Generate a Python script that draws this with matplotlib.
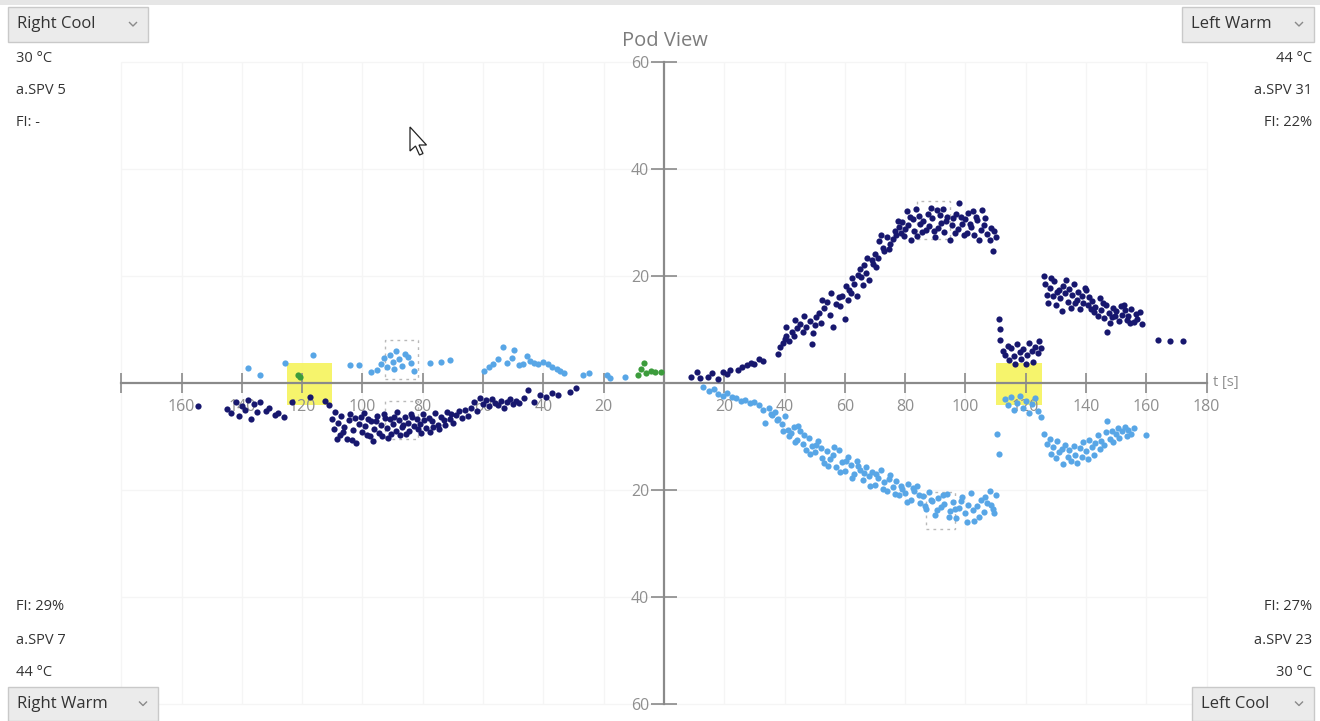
import numpy as np
import matplotlib
matplotlib.use("Agg")
import matplotlib.pyplot as plt
from matplotlib.patches import Rectangle, Polygon
from matplotlib.ticker import FuncFormatter

plt.rcParams['font.family'] = ['Open Sans', 'DejaVu Sans']

# slow phase velocity samples, (t [s], SPV [deg/s]); right ear plotted on negative time
left_warm = [
    (9, 1.2), (11, 2.1), (12, 1.0), (14.5, 1.2), (16, 1.8), (18, 0.8), (19.5, 2.0), (21, 1.6),
    (22, 2.4), (24.5, 2.5), (26, 3.0), (27.5, 3.4), (29, 3.8), (30, 3.6), (31.5, 4.5), (33, 4.2),
    (38, 5.5), (38.5, 6.8), (39.5, 7.5), (40, 8.3), (40.5, 8.8), (41.5, 7.9), (42.5, 9.5), (43, 8.7),
    (44, 10.2), (45, 11.0), (46, 9.6), (47, 10.5), (48.5, 11.6), (49, 7.2), (49.5, 9.3), (50.5, 12.4),
    (51.5, 13.0), (52, 11.2), (53, 14.0), (54, 15.2), (55, 12.8), (56, 10.4), (57, 14.8), (58, 16.0),
    (59, 16.3), (60, 12.0), (61, 15.6), (61.5, 17.4), (62, 16.8), (63, 18.5), (64, 16.2), (64.5, 20.2),
    (65, 21.3), (65.5, 19.8), (66.5, 22.0), (67, 20.6), (68, 19.2), (69, 23.0), (69.5, 22.2), (70, 24.1),
    (71, 23.4), (71.5, 26.5), (72.5, 25.2), (73, 24.6), (74, 27.3), (75, 26.0), (76, 26.9), (76.5, 28.4),
    (77, 27.6), (78, 29.2), (78.5, 28.0), (79, 30.1), (80, 28.8), (80.5, 32.2), (81, 29.6), (82, 26.8),
    (82.5, 30.7), (83, 28.5), (84, 27.4), (84.5, 31.2), (85, 29.8), (86, 30.3), (87, 28.6), (87.5, 31.5),
    (88, 29.4), (89, 30.8), (90, 27.3), (90.5, 32.4), (91, 29.0), (91.5, 31.4), (92, 30.0), (93, 28.2),
    (94, 31.0), (95, 26.8), (95.5, 29.6), (96, 30.9), (97, 31.5), (97.5, 28.7), (98, 33.6), (99, 29.8),
    (100, 30.6), (100.5, 28.0), (101, 31.8), (102, 29.2), (102.5, 32.1), (103, 27.6), (104, 30.4),
    (105, 28.6), (105.5, 32.3), (106, 29.5), (107, 27.8), (108, 26.7), (109, 24.6), (110, 27.2),
    (40.5, 10.4), (43.5, 11.8), (46.5, 12.6), (50, 10.8), (52.5, 15.6), (55.5, 16.8), (58.5, 14.4),
    (60.5, 18.2), (62.5, 19.6), (66, 18.4), (67.5, 23.4), (70.5, 21.6), (72, 27.6), (74.5, 25.0),
    (77.5, 30.2), (79.5, 27.4), (81.5, 31.0), (83.5, 32.6), (85.5, 28.2), (88.5, 32.8), (89.5, 28.4),
    (92.5, 32.6), (93.5, 30.2), (96.5, 28.0), (98.5, 31.0), (99.5, 27.6), (101.5, 29.8), (103.5, 31.0),
    (104.5, 26.8), (106.5, 30.8), (108.5, 29.0), (109.5, 28.4),
    (111, 12.0), (111.5, 10.0), (111.5, 8.0), (112.5, 6.0), (113, 5.2), (114, 7.0), (114.5, 4.3),
    (115, 6.5), (116, 5.0), (116.5, 3.5), (117, 7.2), (118, 5.8), (118.5, 4.4), (119, 6.3), (120, 3.6),
    (120.5, 5.2), (121, 7.5), (122, 6.0), (122.5, 4.0), (123, 6.8), (124, 5.6), (124.5, 7.8), (125, 6.5),
    (126, 20.0), (126.5, 18.5), (127, 16.5), (127.5, 15.0), (128, 17.8), (129, 16.2), (129.5, 19.0),
    (130, 14.6), (131, 17.3), (131.5, 15.8), (132, 13.4), (132.5, 18.2), (133, 16.8), (134, 15.2),
    (134.5, 17.6), (135, 14.0), (135.5, 16.4), (136, 18.5), (137, 15.6), (137.5, 17.0), (138, 13.8),
    (138.5, 16.2), (139, 15.0), (140, 17.4), (140.5, 14.6), (141, 16.0), (142, 15.4), (142.5, 13.2),
    (143, 14.2), (144, 12.6), (144.5, 15.8), (145, 13.6), (146, 12.2), (146.5, 14.6), (147, 9.6),
    (147.5, 13.0), (148, 11.2), (149, 14.0), (149.5, 12.5), (150, 13.4), (151, 11.6), (151.5, 14.3),
    (152, 12.8), (153, 13.6), (153.5, 11.8), (154, 12.6), (155, 13.8), (156, 11.4), (156.5, 12.9),
    (157, 12.0), (158, 13.2), (158.5, 11.0), (128.5, 19.6), (130.5, 17.0), (133.5, 19.2), (136.5, 15.0),
    (139.5, 17.8), (141.5, 13.8), (145.5, 15.0), (148.5, 12.4), (152.5, 14.6), (154.5, 11.2),
    (164, 8.0), (168, 7.8), (172, 7.8),
]

left_cool = [
    (13, -0.8), (15, -1.5), (16.5, -1.2), (18, -2.0), (19.5, -2.4), (21, -1.9), (22.5, -2.6), (24, -2.8),
    (25.5, -3.4), (27, -3.1), (28.5, -3.8), (30, -3.5), (31.5, -4.2), (33, -5.0), (33.5, -7.4), (35, -4.6),
    (36, -6.0), (37, -5.4), (38, -6.8), (39, -7.6), (40, -6.2), (41, -8.8), (42, -9.4), (43, -8.2),
    (44, -10.6), (45, -9.0), (46, -11.4), (47, -12.5), (48, -10.2), (49, -11.8), (50, -13.0), (51, -10.8),
    (52, -12.2), (53, -15.0), (54, -12.8), (55, -14.2), (56, -13.4), (57, -15.8), (58, -12.6), (59, -14.8),
    (60, -16.4), (61, -13.8), (62, -15.4), (63, -17.0), (64, -14.6), (65, -16.2), (66, -18.2), (67, -15.8),
    (68, -17.4), (69, -16.6), (70, -19.0), (71, -17.8), (72, -16.2), (73, -18.6), (74, -20.2), (75, -17.2),
    (76, -19.4), (77, -18.4), (78, -21.0), (79, -19.8), (80, -20.6), (81, -18.8), (82, -21.8), (83, -20.2),
    (84, -19.2), (85, -22.4), (86, -21.2), (87, -23.6), (88, -20.4), (89, -22.0), (90, -24.6), (91, -21.6),
    (92, -23.2), (93, -22.6), (94, -20.8), (95, -24.0), (96, -22.2), (97, -25.2), (98, -23.4), (99, -21.4),
    (100, -24.4), (101, -22.8), (102, -20.6), (103, -25.8), (104, -23.0), (105, -21.8), (106, -24.2),
    (107, -22.4), (108, -20.2), (109, -23.6), (110, -21.0),
    (35.5, -5.8), (37.5, -7.0), (39.5, -9.0), (41.5, -10.0), (43.5, -11.0), (44.5, -8.0), (46.5, -9.8),
    (48.5, -13.2), (50.5, -11.6), (52.5, -14.0), (54.5, -15.6), (56.5, -12.0), (58.5, -16.6),
    (60.5, -14.6), (62.5, -17.8), (64.5, -15.6), (66.5, -16.8), (68.5, -19.2), (70.5, -17.0),
    (72.5, -19.8), (74.5, -18.0), (76.5, -20.8), (78.5, -19.2), (80.5, -22.2), (82.5, -19.6),
    (84.5, -21.0), (86.5, -23.0), (88.5, -21.8), (90.5, -23.8), (92.5, -21.0), (94.5, -25.0),
    (96.5, -23.6), (98.5, -22.0), (100.5, -26.0), (102.5, -23.8), (104.5, -25.0), (106.5, -21.4),
    (108.5, -22.8), (109.5, -24.4),
    (110.5, -9.5), (111, -13.2), (113, -3.0), (114, -4.2), (115, -2.6), (116, -5.0), (117, -3.8),
    (118, -2.4), (119, -4.6), (120, -3.4), (121, -5.6), (122, -4.0), (123, -2.8), (124, -5.2), (125, -6.4),
    (126, -9.6), (127, -11.5), (128, -10.4), (128.5, -13.2), (129, -12.0), (130, -14.0), (130.5, -10.8),
    (131, -13.0), (132, -12.4), (132.5, -15.2), (133, -11.6), (134, -13.8), (134.5, -12.6), (135, -14.6),
    (136, -11.8), (136.5, -13.4), (137, -15.0), (138, -12.2), (138.5, -13.8), (139, -11.0), (140, -12.8),
    (140.5, -14.2), (141, -10.6), (142, -12.0), (142.5, -13.4), (143, -11.2), (144, -9.8), (144.5, -12.4),
    (145, -10.8), (146, -11.6), (146.5, -9.2), (147, -7.2), (148, -10.4), (148.5, -9.0), (149, -11.0),
    (150, -9.6), (150.5, -8.4), (151, -10.2), (152, -9.0), (153, -8.2), (153.5, -10.0), (154, -8.8),
    (155, -9.6), (156, -8.4), (160, -9.8),
]

right_cool = [
    (-138, 2.8), (-134, 1.5), (-125.7, 3.7), (-116.4, 5.2), (-104, 3.4), (-101, 3.4), (-97, 2.1),
    (-95, 2.4), (-94, 3.6), (-93, 4.6), (-92, 3.0), (-91, 5.2), (-90, 4.0), (-89.5, 2.6), (-89, 6.0),
    (-88, 4.4), (-87, 3.2), (-86, 5.4), (-85, 4.8), (-84, 3.8), (-83, 2.2), (-77.5, 3.8), (-74, 4.0),
    (-71, 4.3), (-59.7, 2.2), (-58, 3.0), (-56.7, 3.6), (-55, 4.4), (-53.4, 6.7), (-52, 3.8), (-50.5, 4.6),
    (-49.6, 6.1), (-48, 3.4), (-46.7, 3.6), (-45.5, 5.0), (-44.5, 4.2), (-43, 3.8), (-41.6, 3.6),
    (-40, 4.0), (-38.5, 3.6), (-37, 3.0), (-35.6, 2.7), (-34.5, 2.2), (-33, 1.8), (-26.9, 1.5),
    (-24.8, 1.8), (-19, 1.5), (-18, 0.9), (-12.9, 1.2),
]

right_warm = [
    (-154.5, -4.3), (-145, -4.8), (-143.5, -5.6), (-142, -3.6), (-141, -6.2), (-140, -4.4), (-139, -5.0),
    (-138, -3.2), (-137, -6.8), (-136, -4.0), (-135, -5.4), (-134, -3.6), (-132, -5.2), (-131, -4.6),
    (-129, -6.0), (-128, -5.6), (-126, -6.4), (-123.5, -3.6), (-117.5, -2.6), (-112.5, -3.4), (-111, -4.2),
    (-110, -6.8), (-109.5, -8.6), (-109, -5.4), (-108, -7.4), (-107.5, -9.8), (-107, -6.2), (-106, -8.2),
    (-105, -10.4), (-104.5, -7.0), (-104, -5.8), (-103, -8.8), (-102.5, -6.6), (-102, -11.2), (-101, -7.6),
    (-100, -9.2), (-99.5, -5.6), (-99, -8.0), (-98, -6.8), (-97.5, -10.0), (-97, -7.2), (-96, -8.6),
    (-95, -6.2), (-94.5, -9.4), (-94, -7.8), (-93, -5.8), (-92, -8.4), (-91.5, -10.2), (-91, -6.8),
    (-90, -7.6), (-89, -9.0), (-88.5, -5.4), (-88, -7.0), (-87, -8.2), (-86, -6.4), (-85.5, -9.6),
    (-85, -7.4), (-84, -5.8), (-83, -8.0), (-82, -6.8), (-81, -7.6), (-80, -5.8), (-79, -8.4), (-78, -6.6),
    (-77.5, -9.1), (-77, -7.2), (-76, -5.6), (-75, -7.8), (-74, -6.4), (-73, -7.0), (-72, -5.4),
    (-71, -6.8), (-70, -7.4), (-69, -6.0), (-68, -5.2), (-67, -6.6), (-66, -5.0), (-65, -6.2), (-64, -4.6),
    (-63, -3.6), (-62, -5.2), (-61, -2.8), (-60, -4.0), (-59, -3.2), (-58, -4.4), (-57, -3.0), (-56, -3.8),
    (-55, -4.2), (-54, -3.4), (-53, -4.6), (-52, -3.6), (-51, -3.0), (-50, -4.0), (-49, -3.4), (-48, -3.8),
    (-46.5, -2.8), (-45, -1.4), (-43, -3.6), (-41, -2.2), (-39, -2.6), (-37, -1.8), (-35, -2.2),
    (-31, -1.6), (-29, -0.9),
    (-108.5, -10.4), (-106.5, -9.2), (-103.5, -10.6), (-100.5, -6.4), (-98.5, -9.8), (-96.5, -10.8),
    (-95.5, -7.2), (-93.5, -10.0), (-92.5, -6.6), (-90.5, -9.6), (-89.5, -6.4), (-87.5, -9.8),
    (-86.5, -7.8), (-84.5, -9.0), (-83.5, -6.4), (-81.5, -8.6), (-80.5, -9.4), (-79.5, -7.0),
    (-76.5, -8.2), (-74.5, -8.6), (-72.5, -7.8), (-70.5, -5.8),
]

# samples before irrigation start / fixation
baseline = [(-121.5, 1.5), (-120.7, 1.2), (-8.7, 1.5), (-7.6, 2.7), (-6.5, 3.7), (-6, 1.9),
            (-4.4, 2.3), (-2.8, 2.1), (-1.1, 2.1)]

# fixation windows (t from, t to) and culmination windows (t0, t1, v0, v1)
fix_windows = [(-125, -110), (110, 125.5)]
fix_v = (-4.1, 3.7)
spv_windows = [(-92.5, -81.6, 0.8, 8.0), (-92.5, -81.6, -10.4, -3.4),
               (84, 95, 27.0, 34.0), (87, 96.5, -27.3, -20.4)]

x_ticks = [-180, -160, -140, -120, -100, -80, -60, -40, -20, 20, 40, 60, 80, 100, 120, 140, 160, 180]
y_ticks = [-60, -40, -20, 20, 40, 60]

# corner panels: (dropdown, temperature, a.SPV, FI)
corner_info = {
    'tl': ('Right Cool', '30 °C', 'a.SPV 5', 'FI: -'),
    'tr': ('Left Warm', '44 °C', 'a.SPV 31', 'FI: 22%'),
    'bl': ('Right Warm', '44 °C', 'a.SPV 7', 'FI: 29%'),
    'br': ('Left Cool', '30 °C', 'a.SPV 23', 'FI: 27%'),
}

navy = '#17176e'
light = '#58a6e6'
green = '#3c9c3c'
axis_col = '#8a8a8a'
label_col = '#8f8f8f'

W, H = 1320, 721
fig = plt.figure(figsize=(W / 100, H / 100), dpi=100)
ax = fig.add_axes([0, 0, 1, 1])
ax.set_xlim(-220.2, 217.6)
ax.set_ylim(-63.2, 71.6)


def px(x, y):
    return x / W, 1 - y / H


# faint grid inside the plotting range
ax.vlines(x_ticks, -60, 60, color='#f5f5f5', lw=1.0, zorder=0)
ax.hlines(y_ticks, -180, 180, color='#f5f5f5', lw=1.0, zorder=0)

for t0, t1 in fix_windows:
    ax.add_patch(Rectangle((t0, fix_v[0]), t1 - t0, fix_v[1] - fix_v[0],
                           facecolor='#f5f35c', edgecolor='none', alpha=0.9, zorder=1))

for t0, t1, v0, v1 in spv_windows:
    ax.add_patch(Rectangle((t0, v0), t1 - t0, v1 - v0, facecolor='none', edgecolor='#b9b9b9',
                           lw=1.0, linestyle=(0, (2, 3)), zorder=2))

for spine in ['top', 'right']:
    ax.spines[spine].set_visible(False)
ax.spines['left'].set_position(('data', 0))
ax.spines['bottom'].set_position(('data', 0))
ax.spines['left'].set_bounds(-60, 60)
ax.spines['bottom'].set_bounds(-180, 180)
for spine in ['left', 'bottom']:
    ax.spines[spine].set_color(axis_col)
    ax.spines[spine].set_linewidth(1.6)
    ax.spines[spine].set_zorder(1.5)

ax.set_xticks(x_ticks)
ax.set_yticks(y_ticks)
ax.xaxis.set_major_formatter(FuncFormatter(lambda v, p: '' if v == -180 else f'{abs(v):.0f}'))
ax.yaxis.set_major_formatter(FuncFormatter(lambda v, p: f'{abs(v):.0f}'))
ax.tick_params(axis='x', direction='inout', length=15, width=1.2, color=axis_col,
               labelsize=11.5, labelcolor=label_col, pad=4)
ax.tick_params(axis='y', direction='inout', length=19, width=1.2, color=axis_col,
               labelsize=11.5, labelcolor=label_col, pad=1)

for data, col in [(right_warm, navy), (right_cool, light), (left_cool, light),
                  (left_warm, navy), (baseline, green)]:
    arr = np.array(data)
    ax.scatter(arr[:, 0], arr[:, 1], s=20, color=col, linewidths=0, zorder=3)

ax.text(182, 0, 't [s]', color=label_col, fontsize=10.5, va='center', ha='left')
fig.text(*px(665, 41), 'Pod View', color='#7c7c7c', fontsize=14.5, ha='center', va='center')

# window chrome: top strip
fig.patches.append(Rectangle(px(0, 5), 1, 5 / H, transform=fig.transFigure,
                             facecolor='#e6e6e6', edgecolor='none'))


def dropdown(x0, y0, x1, y1, label):
    fig.patches.append(Rectangle(px(x0, y1), (x1 - x0) / W, (y1 - y0) / H, transform=fig.transFigure,
                                 facecolor='#ebebeb', edgecolor='#c9c9c9', lw=1.0))
    fig.text(*px(x0 + 9, (y0 + y1) / 2), label, color='#333333', fontsize=12,
             ha='left', va='center')
    cx, cy = x1 - 15, (y0 + y1) / 2
    xs = [cx - 3.5, cx, cx + 3.5]
    ys = [cy - 2, cy + 1.5, cy - 2]
    fig.add_artist(plt.Line2D([x / W for x in xs], [1 - y / H for y in ys],
                              transform=fig.transFigure, color='#8a8a8a', lw=1.0))


boxes = {'tl': (8, 7, 148, 42), 'tr': (1182, 7, 1314, 42),
         'bl': (8, 687, 158, 721), 'br': (1192, 687, 1314, 721)}
for key, (name, temp, spv, fi) in corner_info.items():
    dropdown(*boxes[key], name)
    left = key.endswith('l')
    x = 16 if left else 1312
    ha = 'left' if left else 'right'
    if key.startswith('t'):
        rows = [(temp, 58), (spv, 90), (fi, 123)]
    else:
        rows = [(fi, 607), (spv, 640), (temp, 672)]
    for s, y in rows:
        fig.text(*px(x, y), s, color='#333333', fontsize=10.5, ha=ha, va='center')

# mouse pointer
cursor = [(410, 127), (410, 151), (415.5, 146), (419.5, 155), (423, 153.5), (419, 145), (426.5, 145)]
fig.patches.append(Polygon([px(x, y) for x, y in cursor], closed=True, transform=fig.transFigure,
                           facecolor='white', edgecolor='#222222', lw=0.9))

fig.savefig('out.png', dpi=100, facecolor='white')
